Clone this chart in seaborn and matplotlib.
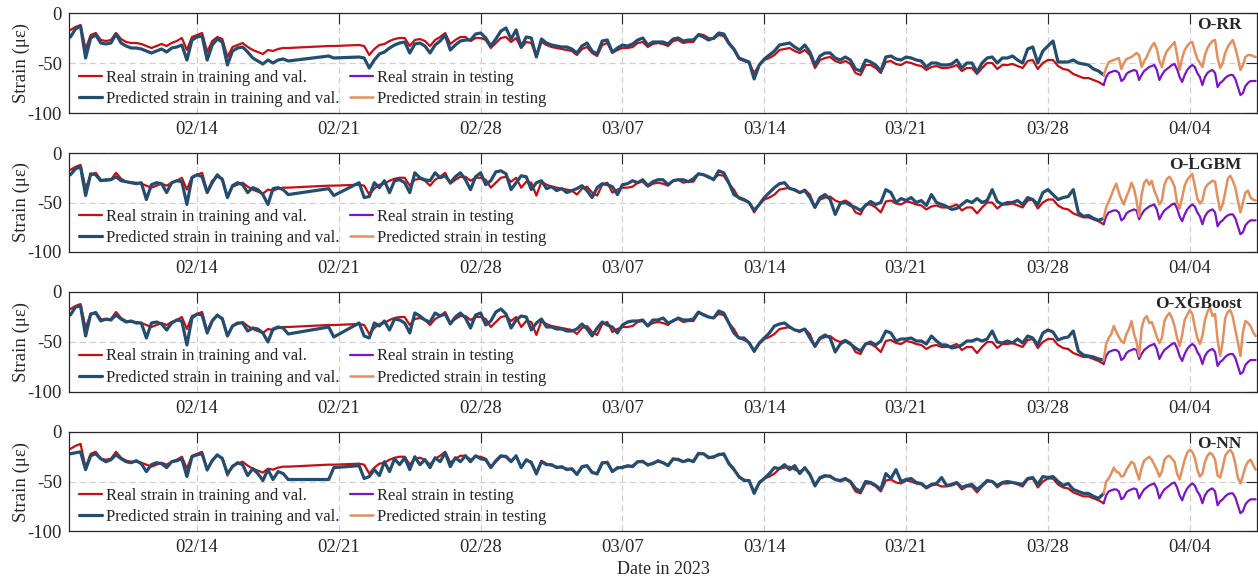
import numpy as np
import pandas as pd
import matplotlib
matplotlib.use("Agg")
import matplotlib.pyplot as plt
import seaborn as sns

START = pd.Timestamp("2023-02-07")

# Sampling instants in days after 7 Feb 2023 (6-hourly in training/validation,
# 3-hourly in testing); the logger was offline around 18-22 Feb.
train_days = np.concatenate([
    np.arange(0.75, 11.51, 0.25),
    np.array([13.5, 13.75]),
    np.arange(15.0, 51.51, 0.25),
])
test_days = np.arange(51.75, 59.26, 0.125)

# Measured strain (micro-strain)
real_train = [
    -17, -14, -12, -36, -22, -20, -27, -28,
    -27, -20, -26, -29, -30, -30, -31, -33,
    -35, -33, -31, -33, -30, -28, -25, -37,
    -24, -22, -20, -39, -28, -24, -26, -44,
    -34, -32, -30, -34, -37, -39, -41, -37,
    -38, -36, -35, -35,
    -33, -33,
    -32, -33, -42, -36, -32, -31, -28, -26,
    -25, -25, -33, -27, -26, -28, -33, -27,
    -24, -20, -31, -27, -24, -24, -28, -25,
    -25, -27, -35, -30, -25, -24, -29, -25,
    -35, -29, -30, -43, -29, -32, -34, -35,
    -36, -37, -38, -42, -36, -34, -40, -43,
    -32, -30, -40, -37, -35, -35, -34, -30,
    -29, -34, -31, -30, -31, -33, -28, -27,
    -30, -29, -29, -21, -22, -25, -26, -22,
    -23, -31, -37, -46, -48, -50, -60, -52,
    -47, -45, -42, -37, -36, -35, -38, -40,
    -37, -42, -55, -47, -45, -44, -48, -50,
    -48, -51, -60, -62, -52, -52, -55, -60,
    -49, -48, -51, -52, -49, -50, -52, -53,
    -57, -54, -53, -55, -55, -54, -52, -58,
    -55, -55, -61, -55, -50, -50, -56, -52,
    -52, -51, -53, -55, -48, -47, -56, -50,
    -47, -47, -53, -56, -57, -61, -63, -65,
    -65, -67, -69,
]
real_test = [
    -72, -64, -60, -59, -58, -58, -60, -68,
    -66, -61, -59, -58, -57, -58, -67, -62,
    -58, -56, -54, -53, -52, -57, -67, -62,
    -58, -56, -54, -52, -51, -56, -64, -69,
    -62, -57, -54, -52, -54, -60, -64, -72,
    -64, -60, -58, -57, -60, -74, -70, -68,
    -65, -63, -62, -62, -66, -74, -82, -80,
    -73, -70, -68, -68, -68,
]

# Model predictions
rr_train = [
    -24, -16, -13, -45, -25, -22, -30, -31,
    -30, -21, -30, -33, -35, -35, -36, -38,
    -40, -38, -36, -39, -35, -34, -32, -47,
    -27, -24, -23, -47, -32, -26, -29, -52,
    -38, -35, -34, -39, -45, -48, -51, -47,
    -50, -47, -46, -48,
    -43, -45,
    -44, -45, -55, -47, -41, -39, -35, -32,
    -30, -29, -40, -31, -30, -33, -40, -32,
    -28, -22, -37, -32, -28, -27, -27, -21,
    -20, -25, -33, -26, -18, -15, -26, -17,
    -34, -24, -25, -44, -26, -30, -32, -33,
    -34, -34, -36, -40, -33, -30, -38, -41,
    -28, -27, -39, -35, -32, -33, -31, -27,
    -25, -32, -29, -29, -29, -31, -26, -25,
    -28, -27, -27, -22, -24, -27, -25, -20,
    -21, -30, -36, -45, -47, -49, -66, -52,
    -46, -42, -38, -32, -31, -30, -34, -37,
    -32, -39, -52, -43, -40, -40, -45, -47,
    -44, -47, -56, -58, -47, -49, -52, -58,
    -44, -43, -46, -47, -44, -45, -47, -48,
    -54, -50, -50, -52, -52, -51, -47, -55,
    -50, -50, -59, -50, -45, -44, -50, -45,
    -45, -43, -47, -50, -36, -34, -50, -38,
    -33, -28, -49, -49, -49, -47, -50, -51,
    -52, -56, -58,
]
rr_test = [
    -62, -55, -49, -48, -47, -46, -45, -56,
    -50, -46, -45, -44, -42, -40, -42, -54,
    -48, -44, -38, -33, -30, -36, -48, -54,
    -44, -38, -35, -32, -29, -42, -57, -45,
    -37, -33, -30, -29, -38, -46, -50, -54,
    -42, -35, -31, -28, -27, -45, -55, -50,
    -40, -34, -30, -27, -35, -45, -57, -52,
    -44, -42, -42, -43, -44,
]

lgbm_train = [
    -22, -16, -14, -43, -21, -22, -28, -27,
    -27, -24, -28, -29, -30, -31, -30, -47,
    -32, -30, -31, -40, -30, -28, -29, -52,
    -25, -22, -24, -40, -30, -22, -27, -45,
    -33, -30, -32, -40, -35, -37, -42, -52,
    -36, -35, -37, -42,
    -36, -43,
    -30, -45, -44, -30, -35, -28, -40, -28,
    -27, -30, -40, -20, -25, -27, -28, -20,
    -25, -23, -30, -24, -20, -27, -37, -24,
    -20, -32, -28, -19, -18, -21, -37, -30,
    -23, -24, -37, -30, -28, -36, -34, -38,
    -36, -40, -38, -36, -33, -38, -45, -35,
    -31, -32, -34, -42, -32, -31, -28, -30,
    -27, -33, -29, -27, -27, -32, -28, -27,
    -27, -29, -26, -21, -22, -24, -27, -18,
    -20, -30, -42, -45, -47, -50, -58, -52,
    -45, -40, -35, -31, -30, -36, -37, -40,
    -38, -45, -55, -45, -42, -47, -62, -51,
    -50, -53, -55, -58, -53, -49, -52, -50,
    -37, -40, -50, -46, -48, -45, -50, -48,
    -53, -42, -50, -52, -54, -57, -56, -52,
    -48, -50, -46, -50, -48, -37, -49, -52,
    -50, -50, -48, -52, -45, -47, -52, -40,
    -37, -42, -47, -45, -44, -37, -60, -64,
    -63, -66, -68,
]
lgbm_test = [
    -66, -55, -49, -43, -36, -31, -40, -47,
    -52, -44, -38, -30, -36, -48, -64, -42,
    -30, -27, -32, -28, -38, -44, -52, -48,
    -32, -26, -24, -28, -34, -50, -56, -45,
    -33, -27, -24, -21, -33, -46, -51, -48,
    -36, -32, -30, -28, -29, -45, -58, -52,
    -40, -26, -23, -28, -35, -48, -60, -50,
    -40, -38, -45, -47, -48,
]

xgb_train = [
    -23, -15, -14, -44, -22, -21, -29, -27,
    -28, -23, -27, -30, -29, -31, -31, -46,
    -31, -30, -32, -38, -31, -28, -29, -53,
    -26, -22, -23, -41, -29, -23, -27, -44,
    -34, -31, -31, -39, -36, -37, -41, -50,
    -37, -35, -36, -42,
    -35, -45,
    -31, -44, -46, -31, -34, -29, -38, -27,
    -28, -31, -41, -21, -24, -28, -30, -21,
    -24, -22, -32, -25, -21, -26, -36, -23,
    -21, -33, -29, -20, -17, -22, -36, -28,
    -24, -25, -38, -31, -27, -35, -35, -37,
    -37, -39, -39, -37, -32, -37, -44, -36,
    -30, -33, -35, -41, -33, -30, -29, -29,
    -28, -34, -28, -28, -26, -31, -29, -26,
    -28, -28, -27, -20, -23, -25, -26, -19,
    -21, -31, -41, -46, -46, -51, -59, -51,
    -46, -41, -34, -32, -31, -35, -38, -39,
    -37, -46, -54, -46, -43, -46, -60, -52,
    -49, -52, -56, -59, -52, -50, -53, -49,
    -39, -41, -49, -47, -47, -46, -49, -49,
    -52, -44, -49, -53, -53, -56, -55, -53,
    -49, -49, -47, -49, -47, -39, -50, -51,
    -49, -51, -47, -51, -44, -46, -53, -41,
    -38, -40, -48, -46, -45, -39, -59, -63,
    -64, -65, -67,
]
xgb_test = [
    -68, -52, -46, -42, -34, -40, -45, -49,
    -51, -42, -37, -29, -42, -50, -64, -36,
    -27, -24, -31, -30, -37, -45, -51, -46,
    -29, -24, -21, -26, -34, -46, -54, -43,
    -28, -23, -18, -22, -35, -46, -52, -44,
    -28, -20, -15, -24, -22, -48, -64, -50,
    -26, -20, -18, -25, -38, -50, -64, -40,
    -29, -31, -34, -40, -44,
]

nn_train = [
    -22, -21, -20, -38, -24, -22, -27, -30,
    -28, -23, -27, -30, -31, -29, -32, -40,
    -33, -31, -32, -36, -30, -29, -27, -45,
    -25, -23, -22, -38, -29, -23, -27, -42,
    -35, -31, -33, -44, -37, -42, -49, -38,
    -48, -40, -42, -48,
    -48, -36,
    -34, -47, -45, -38, -44, -30, -40, -27,
    -33, -26, -38, -25, -33, -28, -36, -26,
    -30, -21, -35, -26, -30, -24, -30, -24,
    -27, -28, -36, -29, -24, -25, -30, -24,
    -36, -28, -31, -42, -30, -33, -33, -36,
    -35, -38, -37, -43, -35, -34, -41, -42,
    -31, -31, -40, -36, -36, -34, -35, -30,
    -30, -33, -32, -29, -31, -34, -27, -28,
    -30, -28, -30, -22, -22, -26, -25, -23,
    -22, -32, -38, -45, -49, -49, -62, -51,
    -47, -42, -36, -37, -33, -38, -34, -42,
    -36, -43, -54, -46, -44, -45, -48, -49,
    -47, -50, -57, -60, -50, -51, -54, -58,
    -42, -47, -38, -50, -48, -47, -51, -52,
    -56, -53, -52, -46, -54, -53, -51, -56,
    -54, -53, -58, -54, -49, -50, -54, -51,
    -50, -51, -52, -53, -47, -46, -53, -45,
    -46, -45, -50, -54, -52, -58, -60, -62,
    -62, -65, -67,
]
nn_test = [
    -62, -50, -47, -42, -36, -40, -41, -45,
    -44, -38, -34, -30, -32, -40, -48, -36,
    -29, -27, -25, -28, -33, -38, -45, -40,
    -28, -25, -24, -27, -30, -42, -48, -38,
    -28, -21, -18, -20, -26, -38, -45, -42,
    -30, -24, -21, -23, -28, -44, -46, -36,
    -24, -20, -18, -22, -32, -46, -52, -44,
    -35, -30, -28, -33, -38,
]

model_names = ["O-RR", "O-LGBM", "O-XGBoost", "O-NN"]
pred_train = [rr_train, lgbm_train, xgb_train, nn_train]
pred_test = [rr_test, lgbm_test, xgb_test, nn_test]

tick_dates = ["2023-02-14", "2023-02-21", "2023-02-28", "2023-03-07",
              "2023-03-14", "2023-03-21", "2023-03-28", "2023-04-04"]
tick_labels = ["02/14", "02/21", "02/28", "03/07", "03/14", "03/21", "03/28", "04/04"]
y_ticks = [-100, -50, 0]
y_tick_labels = ["-100", "-50", "0"]

legend_labels = ["Real strain in training and val.",
                 "Predicted strain in training and val.",
                 "Real strain in testing",
                 "Predicted strain in testing"]

RED = "#C80E12"
BLUE = "#244E70"
PURPLE = "#7B16C8"
ORANGE = "#E3905E"
INK = "#262626"

sns.set_theme(style="white")
plt.rcParams["font.family"] = ["Liberation Serif", "DejaVu Serif"]
plt.rcParams["axes.edgecolor"] = INK
plt.rcParams["axes.linewidth"] = 0.9

t_train = START + pd.to_timedelta(np.append(train_days, test_days[0]), unit="D")
t_test = START + pd.to_timedelta(test_days, unit="D")
real_tr = np.append(real_train, real_test[0])

fig = plt.figure(figsize=(12.58, 5.79), dpi=100)
W, H = 1258.0, 579.0
panel_px = [(13, 113), (153, 252), (292, 392), (432, 531)]
x0_px, x1_px = 69, 1257

for k, (name, ptr, pte) in enumerate(zip(model_names, pred_train, pred_test)):
    top, bot = panel_px[k]
    ax = fig.add_axes([x0_px / W, 1 - bot / H, (x1_px - x0_px) / W, (bot - top) / H])
    sns.lineplot(x=t_train, y=real_tr, ax=ax, color=RED, linewidth=1.6,
                 estimator=None, sort=False, label=legend_labels[0])
    sns.lineplot(x=t_train, y=np.append(ptr, pte[0]), ax=ax, color=BLUE, linewidth=2.3,
                 estimator=None, sort=False, label=legend_labels[1])
    sns.lineplot(x=t_test, y=real_test, ax=ax, color=PURPLE, linewidth=1.6,
                 estimator=None, sort=False, label=legend_labels[2])
    sns.lineplot(x=t_test, y=pte, ax=ax, color=ORANGE, linewidth=1.8,
                 estimator=None, sort=False, label=legend_labels[3])

    ax.set_xlim(START + pd.Timedelta(days=0.68), START + pd.Timedelta(days=59.32))
    ax.set_ylim(-100, 0)
    ax.set_xticks(pd.to_datetime(tick_dates))
    ax.set_xticklabels(tick_labels)
    ax.set_yticks(y_ticks)
    ax.set_yticklabels(y_tick_labels)
    ax.tick_params(axis="both", direction="in", length=8, width=0.8, color=INK,
                   labelcolor=INK, labelsize=13.5, top=True, right=True)
    ax.tick_params(axis="x", pad=6)
    ax.tick_params(axis="y", pad=5)
    ax.grid(True, linestyle=(0, (5, 3)), color="#D0D0D0", linewidth=0.9)
    ax.set_axisbelow(True)
    for s in ax.spines.values():
        s.set_color(INK)
        s.set_linewidth(0.9)

    ax.set_ylabel("Strain (με)", fontsize=13.5, color=INK)
    ax.yaxis.set_label_coords(-0.033, 0.5)
    ax.set_xlabel("")

    ax.text(0.987, 0.88, name, transform=ax.transAxes, ha="right", va="center",
            fontsize=12.5, fontweight="bold", color=INK)

    handles, labels = ax.get_legend_handles_labels()
    ax.legend(handles, labels, ncol=2, loc="lower left", bbox_to_anchor=(0.008, 0.06),
              frameon=False, fontsize=12, handlelength=1.4, handletextpad=0.25,
              columnspacing=0.6, labelspacing=0.33, borderpad=0, borderaxespad=0)

    if k == len(model_names) - 1:
        ax.set_xlabel("Date in 2023", fontsize=13, color=INK)
        ax.xaxis.set_label_coords(0.5, -0.30)

fig.savefig("out.png", dpi=100)
